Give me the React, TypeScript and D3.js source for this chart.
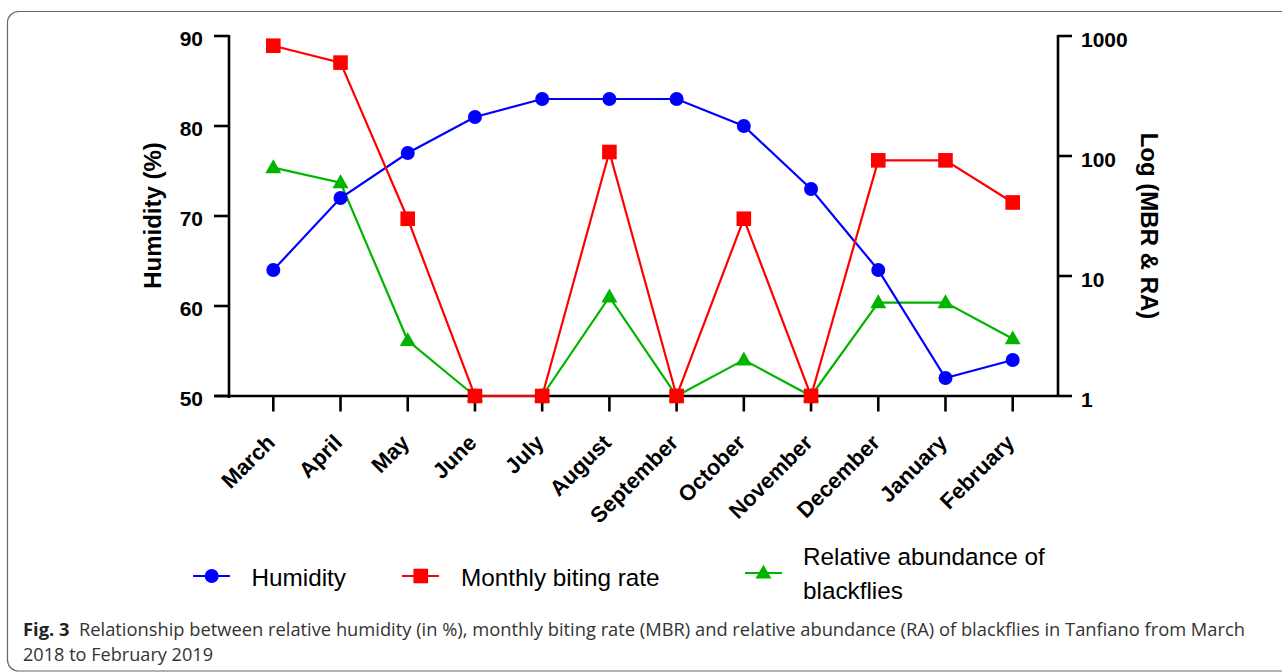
import React from "react";
import * as d3 from "d3";

const months = ["March", "April", "May", "June", "July", "August", "September", "October", "November", "December", "January", "February"];
const humidity = [64, 72, 77, 81, 83, 83, 83, 80, 73, 64, 52, 54];
const mbr = [830, 600, 30, 1, 1, 108, 1, 30, 1, 92, 92, 41];
const ra = [80, 60, 2.9, 1, 1, 6.7, 1, 2.0, 1, 6, 6, 3];
const leftTicks = [50, 60, 70, 80, 90];
const rightTicks = [1, 10, 100, 1000];

const BLUE = "#0000ff";
const RED = "#ff0000";
const GREEN = "#00b400";
const AX = "Liberation Sans, Arial, sans-serif";

export default function App() {
  const x = d3.scalePoint<string>().domain(months).range([273.3, 1012.7]);
  const yL = d3.scaleLinear().domain([50, 90]).range([396, 36]);
  const yR = d3.scaleLog().domain([1, 1000]).range([396, 36]);
  const line = d3.line<[number, number]>();

  const hPts: [number, number][] = months.map((m, i) => [x(m)!, yL(humidity[i])]);
  const mPts: [number, number][] = months.map((m, i) => [x(m)!, yR(mbr[i])]);
  const rPts: [number, number][] = months.map((m, i) => [x(m)!, yR(ra[i])]);

  const tri = (cx: number, cy: number, s = 16) => {
    const h = s * 0.87;
    return `M${cx},${cy - h * 0.6}L${cx + s / 2},${cy + h * 0.4}L${cx - s / 2},${cy + h * 0.4}Z`;
  };

  const axisX0 = 229;
  const axisX1 = 1058;
  const baseY = 396;

  return (
    <svg width={1282} height={672} style={{ position: "absolute", left: 0, top: 0, background: "#fff" }}>
      <rect x={7.5} y={11.5} width={1300} height={659.5} rx={11} fill="#fff" stroke="#666" strokeWidth={1.2} />

      {/* axes */}
      <g stroke="#000" strokeWidth={2.6} fill="none">
        <line x1={axisX0} y1={yL(90) - 1} x2={axisX0} y2={baseY + 2} />
        <line x1={214} y1={baseY} x2={axisX1} y2={baseY} />
        <line x1={axisX1} y1={yR(1000) - 1} x2={axisX1} y2={baseY + 1} />
        {leftTicks.map((t) => (
          <line key={"lt" + t} x1={214} x2={axisX0} y1={yL(t)} y2={yL(t)} />
        ))}
        {rightTicks.map((t) => (
          <line key={"rt" + t} x1={axisX1} x2={1072} y1={yR(t)} y2={yR(t)} />
        ))}
        {months.map((m) => (
          <line key={"xt" + m} x1={x(m)!} x2={x(m)!} y1={baseY} y2={411.5} />
        ))}
      </g>

      <g fontFamily={AX} fontWeight="bold" fontSize={21} fill="#000">
        {leftTicks.map((t) => (
          <text key={"ll" + t} x={203} y={yL(t) + 10} textAnchor="end">{t}</text>
        ))}
        {rightTicks.map((t) => (
          <text key={"rl" + t} x={1081} y={yR(t) + 10.5} textAnchor="start">{t}</text>
        ))}
      </g>
      <g fontFamily={AX} fontWeight="bold" fontSize={22} fill="#000">
        {months.map((m) => (
          <text key={"xl" + m} transform={`translate(${x(m)! + 3},444) rotate(-45)`} textAnchor="end">{m}</text>
        ))}
      </g>

      <text transform="translate(161,215.5) rotate(-90)" textAnchor="middle" fontFamily={AX} fontWeight="bold" fontSize={24}>Humidity (%)</text>
      <text transform="translate(1141,226) rotate(90)" textAnchor="middle" fontFamily={AX} fontWeight="bold" fontSize={24}>Log (MBR &amp; RA)</text>

      {/* series: RA (green) */}
      <path d={line(rPts)!} fill="none" stroke={GREEN} strokeWidth={2.2} />
      {rPts.map((p, i) => (
        <path key={"rm" + i} d={tri(p[0], p[1])} fill={GREEN} />
      ))}
      {/* humidity (blue) */}
      <path d={line(hPts)!} fill="none" stroke={BLUE} strokeWidth={2.2} />
      {hPts.map((p, i) => (
        <circle key={"hm" + i} cx={p[0]} cy={p[1]} r={7} fill={BLUE} />
      ))}
      {/* MBR (red) */}
      <path d={line(mPts)!} fill="none" stroke={RED} strokeWidth={2.2} />
      {mPts.map((p, i) => (
        <rect key={"mm" + i} x={p[0] - 7.3} y={p[1] - 7.3} width={14.6} height={14.6} fill={RED} />
      ))}

      {/* legend */}
      <g fontFamily={AX} fontSize={24.3} fill="#000">
        <line x1={193} x2={230} y1={576} y2={576} stroke={BLUE} strokeWidth={2.2} />
        <circle cx={211.7} cy={576} r={7} fill={BLUE} />
        <text x={251.5} y={585.5}>Humidity</text>

        <line x1={402} x2={439} y1={576} y2={576} stroke={RED} strokeWidth={2.2} />
        <rect x={420.7 - 7.3} y={576 - 7.3} width={14.6} height={14.6} fill={RED} />
        <text x={461} y={585.5}>Monthly biting rate</text>

        <line x1={745} x2={782} y1={573} y2={573} stroke={GREEN} strokeWidth={2.2} />
        <path d={tri(763.5, 573)} fill={GREEN} />
        <text x={803} y={565}>Relative abundance of</text>
        <text x={803} y={598.5}>blackflies</text>
      </g>

      {/* caption */}
      <g fontFamily="Open Sans, Noto Sans, sans-serif" fontSize={17.5} fill="#333">
        <text x={23} y={635.5} textLength={1222} lengthAdjust="spacingAndGlyphs">
          <tspan fontWeight="bold" fill="#222">Fig. 3</tspan>
          <tspan>{"\u00a0 Relationship between relative humidity (in %), monthly biting rate (MBR) and relative abundance (RA) of blackflies in Tanfiano from March"}</tspan>
        </text>
        <text x={23} y={661} textLength={190} lengthAdjust="spacingAndGlyphs">2018 to February 2019</text>
      </g>
    </svg>
  );
}
